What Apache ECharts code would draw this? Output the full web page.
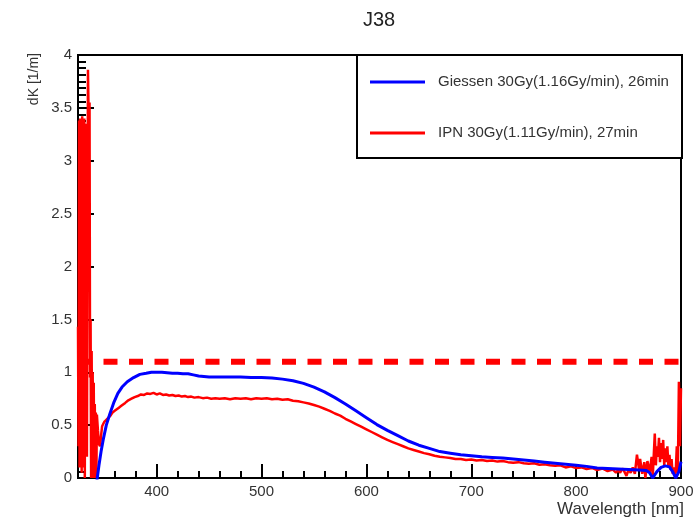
<!DOCTYPE html>
<html>
<head>
<meta charset="utf-8">
<script src="https://cdn.jsdelivr.net/npm/echarts@6/dist/echarts.min.js"></script>
<style>html,body{margin:0;padding:0;background:#fff}#c{width:700px;height:521px}</style>
</head>
<body>
<div id="c"></div>
<script>
// ---- data ----
const chartTitle = 'J38';
const seriesNames = ['Giessen 30Gy(1.16Gy/min), 26min', 'IPN 30Gy(1.11Gy/min), 27min'];
const xAxisTitle = 'Wavelength [nm]';
const yAxisTitle = 'dK [1/m]';
const xRange = [325, 900];
const yRange = [0, 4];
const xMajorTicks = [400, 500, 600, 700, 800, 900];
const xMinorTicks = [340, 360, 380, 420, 440, 460, 480, 520, 540, 560, 580, 620, 640, 660, 680, 720, 740, 760, 780, 820, 840, 860, 880];
const yTickStep = 0.5;
const thresholdLevel = 1.1;

const giessenWl = [342, 345, 347, 349, 352, 355.5, 359, 363, 367, 372, 378, 384, 390, 395, 400, 405, 410, 415, 420, 425, 430, 435, 440, 445, 450, 460, 470, 480, 490, 500, 510, 520, 530, 540, 550, 560, 570, 580, 590, 600, 610, 620, 630, 640, 650, 660, 670, 680, 690, 700, 710, 720, 730, 740, 750, 760, 770, 780, 790, 800, 810, 820, 830, 840, 850, 860, 867, 870, 873, 877, 881, 885, 889, 892, 895, 898, 900];
const giessenK = [-0.10, 0.12, 0.25, 0.36, 0.50, 0.61, 0.71, 0.80, 0.86, 0.91, 0.95, 0.98, 0.99, 1.00, 1.00, 1.00, 0.995, 0.99, 0.99, 0.985, 0.985, 0.975, 0.965, 0.96, 0.955, 0.955, 0.955, 0.955, 0.95, 0.95, 0.945, 0.935, 0.92, 0.895, 0.86, 0.815, 0.76, 0.70, 0.635, 0.57, 0.505, 0.45, 0.40, 0.35, 0.31, 0.28, 0.25, 0.235, 0.22, 0.21, 0.20, 0.195, 0.19, 0.18, 0.17, 0.16, 0.15, 0.14, 0.13, 0.12, 0.11, 0.095, 0.09, 0.085, 0.08, 0.075, 0.07, 0.05, 0.0, 0.06, 0.10, 0.115, 0.105, 0.06, 0.0, 0.06, 0.155];

const ipnWl = [325, 325.5, 326, 326.5, 327, 327.5, 328, 328.5, 329, 329.5, 330, 330.5, 331, 331.5, 332, 332.5, 333, 333.5, 334, 334.5, 335, 335.5, 336, 336.5, 337, 337.5, 338, 338.5, 339, 339.5, 340, 340.5, 341, 341.5, 342, 342.5, 343, 344, 345, 346, 347, 348, 349, 350, 352, 354, 356, 358, 360, 362, 364, 366, 368, 370, 373, 376, 379, 382, 385, 388, 391, 394, 397, 400, 403, 406, 409, 412, 415, 418, 421, 424, 427, 430, 433, 436, 440, 444, 448, 452, 456, 460, 465, 470, 475, 480, 485, 490, 495, 500, 505, 510, 515, 520, 525, 530, 535, 540, 545, 550, 555, 560, 565, 570, 575, 580, 585, 590, 595, 600, 605, 610, 615, 620, 625, 630, 635, 640, 645, 650, 655, 660, 665, 670, 675, 680, 685, 690, 695, 700, 705, 710, 715, 720, 725, 730, 735, 740, 745, 750, 755, 760, 765, 770, 775, 780, 785, 790, 795, 800, 805, 810, 815, 820, 825, 830, 835, 838, 840, 842, 844, 846, 848, 850, 852, 854, 856, 858, 860, 861, 863, 865, 866, 868, 870, 872, 873, 875, 876, 877, 878, 879, 880, 881, 882, 883, 884, 885, 886, 887, 888, 889, 890, 891, 892, 893, 894, 895, 896, 897, 898, 899, 900];
const ipnK = [1.43, 0.30, 3.38, 0.10, 3.40, 0.20, 3.36, 0.05, 3.42, 0.30, 3.38, 0.10, 3.40, 0.00, 3.35, 0.40, 3.30, 0.20, 2.00, 3.86, 3.50, 1.85, 3.55, 0.95, 1.50, 0.00, 1.20, 0.20, 1.00, 0.00, 0.90, 0.00, 0.70, 0.10, 0.62, 0.00, 0.60, 0.45, 0.32, 0.30, 0.40, 0.49, 0.51, 0.53, 0.55, 0.57, 0.59, 0.62, 0.635, 0.65, 0.665, 0.68, 0.695, 0.71, 0.735, 0.75, 0.765, 0.775, 0.79, 0.785, 0.80, 0.795, 0.805, 0.79, 0.80, 0.785, 0.79, 0.78, 0.785, 0.775, 0.78, 0.77, 0.775, 0.765, 0.77, 0.76, 0.765, 0.755, 0.76, 0.75, 0.755, 0.75, 0.755, 0.745, 0.755, 0.75, 0.755, 0.745, 0.755, 0.75, 0.755, 0.745, 0.75, 0.74, 0.745, 0.73, 0.725, 0.715, 0.705, 0.69, 0.675, 0.655, 0.635, 0.61, 0.59, 0.56, 0.535, 0.51, 0.485, 0.46, 0.435, 0.41, 0.385, 0.36, 0.34, 0.32, 0.30, 0.28, 0.265, 0.25, 0.235, 0.225, 0.21, 0.20, 0.195, 0.19, 0.18, 0.18, 0.17, 0.175, 0.165, 0.17, 0.16, 0.165, 0.155, 0.16, 0.15, 0.145, 0.15, 0.14, 0.135, 0.14, 0.125, 0.13, 0.12, 0.115, 0.12, 0.10, 0.11, 0.095, 0.10, 0.085, 0.095, 0.075, 0.09, 0.065, 0.08, 0.05, 0.075, 0.05, 0.09, 0.06, 0.02, 0.08, 0.05, 0.10, 0.04, 0.22, 0.08, 0.18, 0.04, 0.15, 0.00, 0.16, 0.05, 0.20, 0.00, 0.42, 0.12, 0.30, 0.20, 0.38, 0.15, 0.33, 0.18, 0.36, 0.12, 0.28, 0.15, 0.30, 0.10, 0.22, 0.08, 0.18, 0.04, 0.10, 0.02, 0.06, 0.30, 0.05, 0.91, 0.30, 0.85];

// ---- build ----
const FONT = '"Liberation Sans", Arial, Helvetica, sans-serif';
const zip = (a, b) => a.map((v, i) => [v, b[i]]);
const chart = echarts.init(document.getElementById('c'), null, {renderer: 'canvas'});

chart.setOption({
  animation: false,
  backgroundColor: '#fff',
  grid: {left: 78, right: 19, top: 55, bottom: 43, show: true, borderColor: '#000', borderWidth: 2, backgroundColor: 'transparent'},
  legend: {
    data: seriesNames, orient: 'vertical', left: 370, top: 74, z: 6, padding: 0,
    icon: 'rect', itemWidth: 55, itemHeight: 3, itemGap: 35,
    textStyle: {fontFamily: FONT, fontSize: 15, lineHeight: 16, color: '#333', padding: [0, 0, 0, 8]}
  },
  xAxis: [{
    type: 'value', min: xRange[0], max: xRange[1], position: 'bottom',
    axisLine: {show: true, onZero: false, lineStyle: {color: '#000', width: 2}},
    axisTick: {show: true, inside: true, length: 14, customValues: xMajorTicks, lineStyle: {color: '#000', width: 2}},
    axisLabel: {show: true, customValues: xMajorTicks, margin: 6, fontFamily: FONT, fontSize: 15, color: '#333'},
    splitLine: {show: false}
  }, {
    type: 'value', min: xRange[0], max: xRange[1], position: 'bottom', offset: 0,
    axisLine: {show: false},
    axisTick: {show: true, inside: true, length: 7, customValues: xMinorTicks, lineStyle: {color: '#000', width: 2}},
    axisLabel: {show: false},
    splitLine: {show: false}
  }],
  yAxis: {
    type: 'value', min: yRange[0], max: yRange[1], interval: yTickStep,
    axisLine: {show: true, onZero: false, lineStyle: {color: '#000', width: 2}},
    axisTick: {show: true, inside: true, length: 16, lineStyle: {color: '#000', width: 2}},
    minorTick: {show: true, splitNumber: 8, length: 8, lineStyle: {color: '#000', width: 2}},
    axisLabel: {margin: 6, fontFamily: FONT, fontSize: 15, color: '#333'},
    splitLine: {show: false}
  },
  graphic: [
    {type: 'rect', z: 3, shape: {x: 357, y: 55, width: 325, height: 103}, style: {fill: '#fff', stroke: '#000', lineWidth: 2}},
    {type: 'text', x: 379, y: 20, style: {text: chartTitle, align: 'center', verticalAlign: 'middle', font: '20px ' + FONT, fill: '#222'}},
    {type: 'text', x: 34, y: 53, rotation: Math.PI / 2, style: {text: yAxisTitle, align: 'right', verticalAlign: 'middle', font: '14px ' + FONT, fill: '#333'}},
    {type: 'text', x: 684, y: 509, style: {text: xAxisTitle, align: 'right', verticalAlign: 'middle', font: '17px ' + FONT, fill: '#333'}}
  ],
  series: [{
    name: seriesNames[1], type: 'line', xAxisIndex: 0, data: zip(ipnWl, ipnK),
    symbol: 'none', showSymbol: false, z: 2,
    itemStyle: {color: '#ff0000'}, lineStyle: {color: '#ff0000', width: 2.5}
  }, {
    name: seriesNames[0], type: 'line', xAxisIndex: 0, data: zip(giessenWl, giessenK),
    symbol: 'none', showSymbol: false, z: 3,
    itemStyle: {color: '#0000ff'}, lineStyle: {color: '#0000ff', width: 3}
  }, {
    name: 'threshold', type: 'line', xAxisIndex: 0, data: [[xRange[0], thresholdLevel], [xRange[1], thresholdLevel]],
    symbol: 'none', showSymbol: false, silent: true, z: 2,
    lineStyle: {color: '#ff0000', width: 6, type: [14, 11.5], dashOffset: 0}
  }]
});
</script>
</body>
</html>
